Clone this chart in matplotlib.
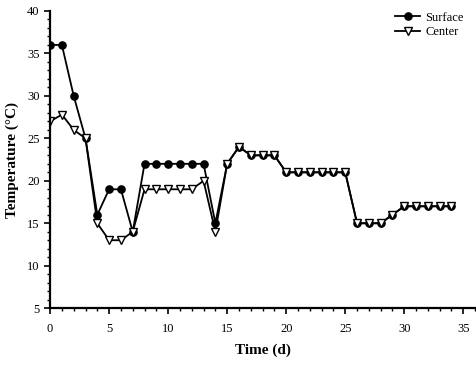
"""Surface vs center temperature over time."""

import matplotlib

matplotlib.use("Agg")

import matplotlib.pyplot as plt  # noqa: E402
from matplotlib.ticker import MultipleLocator  # noqa: E402

days = list(range(35))
surface = [36, 36, 30, 25, 16, 19, 19, 14, 22, 22, 22, 22, 22, 22, 15, 22, 24, 23, 23, 23,
           21, 21, 21, 21, 21, 21, 15, 15, 15, 16, 17, 17, 17, 17, 17]
center = [27, 27.8, 26, 25, 15, 13, 13, 14, 19, 19, 19, 19, 19, 20, 14, 22, 24, 23, 23, 23,
          21, 21, 21, 21, 21, 21, 15, 15, 15, 16, 17, 17, 17, 17, 17]

plt.rcParams["font.family"] = ["Liberation Serif", "DejaVu Serif"]

fig = plt.figure(figsize=(4.77, 3.66), dpi=100)
ax = fig.add_axes([0.105, 0.158, 0.891, 0.812])

ax.plot(days, surface, color="black", lw=1.3, marker="o", ms=5.2,
        mfc="black", mec="black", label="Surface")
ax.plot(days, center, color="black", lw=1.3, marker="v", ms=5.2,
        mfc="white", mec="black", mew=1.0, label="Center")

ax.set_xlim(0, 36)
ax.set_ylim(5, 40)
ax.xaxis.set_major_locator(MultipleLocator(5))
ax.xaxis.set_minor_locator(MultipleLocator(1))
ax.yaxis.set_major_locator(MultipleLocator(5))
ax.yaxis.set_minor_locator(MultipleLocator(1))
ax.tick_params(which="major", direction="out", length=4, width=1.2, labelsize=9)
ax.tick_params(which="minor", direction="out", length=2, width=1.0)
ax.tick_params(axis="x", pad=7)

for side in ("top", "right"):
    ax.spines[side].set_visible(False)
for side in ("left", "bottom"):
    ax.spines[side].set_linewidth(1.6)

ax.set_xlabel("Time (d)", fontsize=11, fontweight="bold", labelpad=6)
ax.set_ylabel("Temperature (°C)", fontsize=11, fontweight="bold", labelpad=6)

ax.legend(loc="upper right", bbox_to_anchor=(1.0, 1.035), frameon=False, fontsize=9,
          handlelength=2.0, handletextpad=0.4, labelspacing=0.2)

fig.savefig("out.png", dpi=100)
plt.close(fig)
